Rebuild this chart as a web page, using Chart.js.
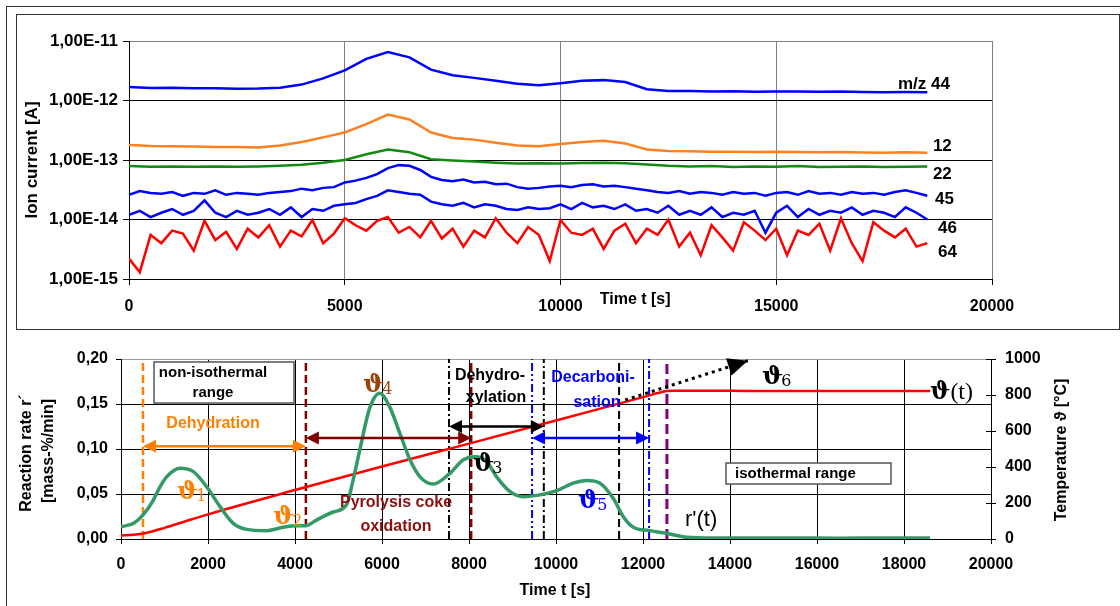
<!DOCTYPE html>
<html>
<head>
<meta charset="utf-8">
<script src="https://cdn.jsdelivr.net/npm/chart.js@4.4.0/dist/chart.umd.min.js"></script>
<style>
  body { margin: 0; width: 1120px; height: 606px; position: relative; background: #fff; overflow: hidden; }
  .frame { position: absolute; border: 1.5px solid #333; box-sizing: border-box; }
  #outer { left: 6px; top: 6px; width: 1130px; height: 620px; }
  #inner { left: 16px; top: 14px; width: 1104px; height: 316px; }
  canvas { position: absolute; left: 0; }
  #top { top: 0; }
  #bottom { top: 330px; }
</style>
</head>
<body>
<div class="frame" id="outer"></div>
<div class="frame" id="inner"></div>
<canvas id="top" width="1120" height="330"></canvas>
<canvas id="bottom" width="1120" height="276"></canvas>
<script>
// ---------- top panel: ion currents ----------
const timeCoarse = [0,500,1000,1500,2000,2500,3000,3500,4000,4500,5000,5500,6000,6500,7000,7500,8000,8500,9000,9500,
  10000,10500,11000,11500,12000,12500,13000,13500,14000,14500,15000,15500,16000,16500,17000,17500,18000,18500];
const timeFine = [0,250,500,750,1000,1250,1500,1750,2000,2250,2500,2750,
  3000,3250,3500,3750,4000,4250,4500,4750,
  5000,5250,5500,5750,6000,6250,6500,6750,
  7000,7250,7500,7750,8000,8250,8500,8750,
  9000,9250,9500,9750,10000,10250,10500,10750,
  11000,11250,11500,11750,12000,12250,12500,12750,
  13000,13250,13500,13750,14000,14250,14500,14750,
  15000,15250,15500,15750,16000,16250,16500,16750,
  17000,17250,17500,17750,18000,18250,18500];

// m/z 44 in 1e-12 A
const mz44 = [1.68,1.62,1.63,1.60,1.61,1.58,1.59,1.64,1.85,2.35,3.2,5.0,6.5,5.3,3.3,2.65,2.4,2.15,1.92,1.8,
  1.95,2.15,2.2,2.05,1.55,1.45,1.44,1.42,1.43,1.40,1.42,1.41,1.40,1.42,1.39,1.38,1.39,1.38];
// m/z 12 in 1e-13 A
const mz12 = [1.78,1.72,1.70,1.68,1.66,1.65,1.62,1.75,2.0,2.4,2.9,4.0,5.8,4.8,2.9,2.35,2.2,1.95,1.75,1.7,
  1.85,2.0,2.1,1.9,1.5,1.42,1.40,1.38,1.37,1.36,1.38,1.36,1.35,1.36,1.34,1.33,1.35,1.32];
// m/z 22 in 1e-14 A
const mz22 = [7.9,7.7,7.8,7.7,7.8,7.7,7.8,8.0,8.3,9.0,10.0,12.5,15.0,13.5,10.3,9.8,9.4,9.0,8.7,8.8,
  8.7,8.9,9.0,8.8,8.4,8.0,7.8,7.9,7.6,7.8,7.7,7.9,7.6,7.7,7.8,7.6,7.7,7.8];
// m/z 45 in 1e-14 A
const mz45 = [2.6,3.0,2.8,2.7,2.9,2.5,2.8,2.7,3.1,2.6,2.8,2.7,
  2.6,2.8,2.9,3.0,3.3,3.1,3.4,3.5,
  4.2,4.5,5.0,5.8,7.3,8.2,8.0,6.8,
  5.2,4.6,4.4,4.7,4.2,4.3,3.9,4.0,
  3.5,3.3,3.4,3.6,3.7,3.5,3.8,3.9,
  3.6,3.7,3.5,3.3,3.1,2.9,2.8,3.0,
  2.7,2.9,2.8,2.6,2.9,2.7,2.8,2.5,
  2.8,2.9,2.6,3.0,2.7,2.8,2.6,2.9,
  2.7,2.8,2.6,2.9,3.1,2.8,2.5];
// m/z 46 in 1e-14 A
const mz46 = [1.2,1.4,1.1,1.3,1.5,1.2,1.4,2.1,1.3,1.1,1.4,1.2,
  1.3,1.5,1.2,1.6,1.1,1.5,1.4,1.7,
  1.8,1.9,2.2,2.5,3.1,2.9,2.7,2.6,
  2.0,1.8,1.7,1.9,1.6,1.8,1.7,1.5,
  1.45,1.6,1.5,1.55,1.8,1.5,1.9,1.6,
  1.7,1.5,1.8,1.4,1.5,1.3,1.7,1.2,
  1.4,1.2,1.6,1.1,1.3,1.2,1.4,0.6,
  1.3,1.7,1.1,1.5,1.2,1.4,1.3,1.6,
  1.2,1.4,1.3,1.1,1.6,1.3,1.0];
// m/z 64 in 1e-15 A
const mz64 = [2.2,1.3,5.5,4.0,6.5,5.8,3.0,9.5,4.5,6.2,3.2,7.0,
  5.0,8.0,3.5,6.5,5.2,9.8,4.0,5.8,
  10.5,8.0,6.5,9.5,11.0,6.0,7.5,5.0,
  9.5,4.8,7.0,3.5,6.5,5.0,10.5,6.0,
  4.0,7.5,5.5,2.0,9.8,6.0,5.5,7.0,
  3.2,6.5,8.5,4.0,7.0,5.5,10.0,3.5,
  6.0,2.5,8.0,5.0,3.0,9.0,6.5,4.5,
  7.0,2.5,6.5,5.5,8.5,3.0,10.5,4.0,
  2.0,9.0,6.5,5.0,7.0,3.5,4.0];
const seriesNames = ['m/z 44','12','22','45','46','64'];
const decades = [1e-15,1e-14,1e-13,1e-12,1e-11];

// ---------- bottom panel: reaction rate and temperature ----------
const rateTime = [0,292,507,744,897,1050,1356,1663,1969,2276,2582,2889,3349,3732,4000,4250,4494,4877,5183,5336,5490,5720,5950,
  6184,6414,6644,6874,7180,7540,7870,8138,8406,8636,8943,9249,9632,10015,10398,10705,11011,11318,11548,11778,12146,12544,
  13004,13617,14500,15500,16500,17500,18600];
const rateValue = [0.0137,0.0174,0.0267,0.0433,0.058,0.069,0.0785,0.0748,0.058,0.036,0.0174,0.0107,0.0093,0.013,0.0148,0.0148,
  0.021,0.030,0.038,0.0656,0.099,0.146,0.162,
  0.146,0.117,0.088,0.069,0.061,0.072,0.088,0.0915,0.086,0.069,0.0526,0.047,0.049,0.0537,0.062,0.065,0.062,0.045,0.0248,
  0.013,0.0093,0.0063,0.0019,0.001,0.001,0.0012,0.0009,0.0011,0.001];
const tempTime = [0,300,600,1000,1500,2000,4000,6000,8000,10000,12000,12550,12700,14000,16000,18600];
const tempValue = [20,23,35,62,100,137,272,403,530,658,788,822,824,823,822,822];
const extrapTime = [11590,14410];
const extrapTemp = [772,990];
const markerTimes = [506,4250,7540,8050,9450,9720,11450,12140,12550];

// styles for the vertical phase markers
const markerStyles = [
  {color:'#ff8000', dash:[8,4], width:2.5},
  {color:'#800000', dash:[8,4], width:2.5},
  {color:'#000000', dash:[8,3,2,3], width:2},
  {color:'#800000', dash:[8,4], width:2.5},
  {color:'#0000ff', dash:[8,3,2,3,2,3], width:2},
  {color:'#000000', dash:[8,3,2,3], width:2},
  {color:'#000000', dash:[8,4], width:2},
  {color:'#0000ff', dash:[8,3,2,3], width:2},
  {color:'#800080', dash:[10,5], width:3}
];

const sans = '"Liberation Sans", Arial, sans-serif';
const tickFont = {family: sans, size: 16, weight: 'bold'};

function pts(xs, ys, unit) {
  return xs.map((t, i) => ({x: t, y: ys[i] * (unit || 1)}));
}
function txt(ctx, s, x, y, font, color, align) {
  ctx.font = font;
  ctx.fillStyle = color;
  ctx.textAlign = align || 'center';
  ctx.textBaseline = 'middle';
  ctx.fillText(s, x, y);
}
function vtxt(ctx, s, x, y, font, color) {
  ctx.save();
  ctx.translate(x, y);
  ctx.rotate(-Math.PI / 2);
  txt(ctx, s, 0, 0, font, color);
  ctx.restore();
}
function arrowHead(ctx, x, y, dx, dy, len, half, color) {
  const n = Math.hypot(dx, dy), ux = dx / n, uy = dy / n;
  ctx.beginPath();
  ctx.moveTo(x, y);
  ctx.lineTo(x - ux * len - uy * half, y - uy * len + ux * half);
  ctx.lineTo(x - ux * len + uy * half, y - uy * len - ux * half);
  ctx.closePath();
  ctx.fillStyle = color;
  ctx.fill();
}
function spanArrow(ctx, x1, x2, y, color) {
  ctx.strokeStyle = color;
  ctx.lineWidth = 2.5;
  ctx.setLineDash([]);
  ctx.beginPath();
  ctx.moveTo(x1 + 8, y);
  ctx.lineTo(x2 - 8, y);
  ctx.stroke();
  arrowHead(ctx, x1, y, -1, 0, 13, 6.5, color);
  arrowHead(ctx, x2, y, 1, 0, 13, 6.5, color);
}
function theta(ctx, x, y, sub, color, size) {
  ctx.font = 'bold ' + size + 'px "DejaVu Serif", serif';
  ctx.fillStyle = color;
  ctx.textAlign = 'left';
  ctx.textBaseline = 'middle';
  ctx.fillText('\u03D1', x, y);
  const w = ctx.measureText('\u03D1').width;
  ctx.font = Math.round(size * 0.65) + 'px "DejaVu Serif", serif';
  ctx.fillText(sub, x + w - 2, y + size * 0.2);
}

// ---------- top chart ----------
const seriesTags = [
  {t:17820, v:1.89e-12}, {t:18630, v:1.72e-13}, {t:18630, v:5.8e-14},
  {t:18680, v:2.2e-14}, {t:18750, v:7.2e-15}, {t:18750, v:2.85e-15}
];
const topNotes = {
  id: 'topNotes',
  afterDraw(chart) {
    const {ctx, scales: {x, y}} = chart;
    ctx.save();
    seriesNames.forEach((name, i) => {
      txt(ctx, name, x.getPixelForValue(seriesTags[i].t), y.getPixelForValue(seriesTags[i].v),
        'bold 17px ' + sans, '#000', 'left');
    });
    txt(ctx, 'Time t [s]', x.getPixelForValue(11730), 300, 'bold 16px ' + sans, '#000');
    vtxt(ctx, 'Ion current [A]', 32, 160, 'bold 17px ' + sans, '#000');
    ctx.restore();
  }
};

function msLine(xs, ys, unit, color) {
  return {data: pts(xs, ys, unit), borderColor: color, borderWidth: 2.5, pointRadius: 0, tension: 0};
}

new Chart(document.getElementById('top'), {
  type: 'line',
  data: {
    datasets: [
      msLine(timeCoarse, mz44, 1e-12, '#0000ff'),
      msLine(timeCoarse, mz12, 1e-13, '#ff8020'),
      msLine(timeCoarse, mz22, 1e-14, '#138a13'),
      msLine(timeFine, mz46, 1e-14, '#0000ff'),
      msLine(timeFine, mz45, 1e-14, '#0000ff'),
      msLine(timeFine, mz64, 1e-15, '#ff0000')
    ]
  },
  options: {
    responsive: false,
    animation: false,
    devicePixelRatio: 1,
    layout: {padding: {top: 41, right: 128, left: 0, bottom: 0}},
    plugins: {legend: {display: false}, tooltip: {enabled: false}},
    scales: {
      x: {
        type: 'linear', min: 0, max: 20000,
        ticks: {stepSize: 5000, font: tickFont, color: '#000', padding: 12, maxRotation: 0, callback: v => String(v)},
        grid: {color: '#808080', tickColor: '#000', tickLength: 6},
        border: {color: '#000'},
        afterFit(s) { s.height = 51; }
      },
      y: {
        type: 'logarithmic', min: 1e-15, max: 1e-11,
        afterBuildTicks(s) { s.ticks = decades.map(v => ({value: v})); },
        ticks: {
          font: {family: sans, size: 17, weight: 'bold'}, color: '#000', padding: 5,
          callback: v => '1,00E' + Math.round(Math.log10(v))
        },
        grid: {color: c => (c.tick && c.tick.value >= 1e-11 ? '#808080' : '#000'), tickColor: '#000', tickLength: 6},
        border: {color: '#000'},
        afterFit(s) { s.width = 129; }
      }
    }
  },
  plugins: [topNotes]
});

// ---------- bottom chart ----------
const spans = [
  {from:506, to:4250, at:0.103, color:'#ff8000'},
  {from:4250, to:8050, at:0.1122, color:'#800000'},
  {from:7540, to:9720, at:0.125, color:'#000000'},
  {from:9450, to:12140, at:0.1122, color:'#0000ff'}
];
const phaseText = [
  {text:'Dehydration', t:2115, r:0.128, color:'#ff8000'},
  {text:'Pyrolysis coke', t:6322, r:0.040, color:'#8b1010'},
  {text:'oxidation', t:6322, r:0.0133, color:'#8b1010'},
  {text:'Dehydro-', t:8483, r:0.182, color:'#000'},
  {text:'xylation', t:8621, r:0.157, color:'#000'},
  {text:'Decarboni-', t:10851, r:0.179, color:'#0000ff'},
  {text:'sation', t:10943, r:0.152, color:'#0000ff'}
];
const thetaTags = [
  {sub:'1', t:1287, r:0.052, color:'#ff8000'},
  {sub:'2', t:3494, r:0.0244, color:'#ff8000'},
  {sub:'3', t:8092, r:0.0833, color:'#000'},
  {sub:'4', t:5563, r:0.171, color:'#a0400a'},
  {sub:'5', t:10506, r:0.042, color:'#0000ff'},
  {sub:'6', t:14736, r:0.180, color:'#000'}
];

const bottomNotes = {
  id: 'bottomNotes',
  afterDatasetsDraw(chart) {
    const {ctx, scales: {x, y, y2}} = chart;
    const px = t => x.getPixelForValue(t), py = r => y.getPixelForValue(r);
    ctx.save();
    spans.forEach(a => spanArrow(ctx, px(a.from), px(a.to), py(a.at), a.color));

    // head of the dotted extrapolation
    const x1 = px(extrapTime[0]), y1 = y2.getPixelForValue(extrapTemp[0]);
    const x2 = px(extrapTime[1]), y2p = y2.getPixelForValue(extrapTemp[1]);
    arrowHead(ctx, x2, y2p, x2 - x1, y2p - y1, 20, 9, '#000');

    // text boxes
    ctx.setLineDash([]);
    ctx.lineWidth = 1.5;
    ctx.strokeStyle = '#555';
    [[759, 3977, 0.1967, 0.1511], [13908, 17701, 0.0844, 0.0611]].forEach(b => {
      const l = px(b[0]), r = px(b[1]), t = py(b[2]), bt = py(b[3]);
      ctx.fillStyle = '#fff';
      ctx.fillRect(l, t, r - l, bt - t);
      ctx.strokeRect(l, t, r - l, bt - t);
    });
    const f15 = 'bold 15px ' + sans;
    txt(ctx, 'non-isothermal', px(2115), py(0.1844), f15, '#000');
    txt(ctx, 'range', px(2115), py(0.1622), f15, '#000');
    txt(ctx, 'isothermal range', px(14115), py(0.0728), f15, '#000', 'left');

    phaseText.forEach(p => txt(ctx, p.text, px(p.t), py(p.r), 'bold 16px ' + sans, p.color));
    thetaTags.forEach(p => theta(ctx, px(p.t), py(p.r), p.sub, p.color, 25));

    // curve names
    ctx.font = 'bold 24px "DejaVu Serif", serif';
    ctx.fillStyle = '#000';
    ctx.textAlign = 'left';
    ctx.textBaseline = 'middle';
    const tx = px(18598), ty = py(0.162);
    ctx.fillText('\u03D1', tx, ty);
    const w = ctx.measureText('\u03D1').width;
    ctx.font = '24px "Liberation Serif", serif';
    ctx.fillText('(t)', tx + w, ty);
    txt(ctx, "r'(t)", px(12966), py(0.021), '22px ' + sans, '#000', 'left');
    ctx.restore();
  },
  afterDraw(chart) {
    const {ctx, chartArea: a, scales: {y2}} = chart;
    ctx.save();
    ctx.strokeStyle = '#000';
    ctx.lineWidth = 1;
    y2.ticks.forEach(tk => {
      const yy = Math.round(y2.getPixelForValue(tk.value)) + 0.5;
      ctx.beginPath();
      ctx.moveTo(a.right - 5, yy);
      ctx.lineTo(a.right, yy);
      ctx.stroke();
    });
    const f16 = 'bold 16px ' + sans;
    txt(ctx, 'Time t [s]', 555, 261, f16, '#000');
    vtxt(ctx, 'Reaction rate r\u00B4', 27, 123, f16, '#000');
    vtxt(ctx, '[mass-%/min]', 49, 121, f16, '#000');
    vtxt(ctx, 'Temperature \u03D1 [\u00B0C]', 1062, 120, f16, '#000');
    ctx.restore();
  }
};

const markerSets = markerTimes.map((t, i) => ({
  data: [{x: t, y: 0}, {x: t, y: 0.2}],
  yAxisID: 'y',
  borderColor: markerStyles[i].color,
  borderDash: markerStyles[i].dash,
  borderWidth: markerStyles[i].width,
  pointRadius: 0
}));

new Chart(document.getElementById('bottom'), {
  type: 'line',
  data: {
    datasets: [
      {data: pts(rateTime, rateValue), yAxisID: 'y', borderColor: '#339966', borderWidth: 3.5,
        pointRadius: 0, tension: 0.4, cubicInterpolationMode: 'monotone'},
      {data: pts(extrapTime, extrapTemp), yAxisID: 'y2', borderColor: '#000', borderWidth: 3,
        borderDash: [3, 4], pointRadius: 0},
      {data: pts(tempTime, tempValue), yAxisID: 'y2', borderColor: '#ff0000', borderWidth: 2.5,
        pointRadius: 0, tension: 0.3, cubicInterpolationMode: 'monotone'},
      ...markerSets
    ]
  },
  options: {
    responsive: false,
    animation: false,
    devicePixelRatio: 1,
    layout: {padding: {top: 29, right: 0, left: 0, bottom: 0}},
    plugins: {legend: {display: false}, tooltip: {enabled: false}},
    scales: {
      x: {
        type: 'linear', min: 0, max: 20000,
        ticks: {stepSize: 2000, font: tickFont, color: '#000', padding: 11, maxRotation: 0, callback: v => String(v)},
        grid: {color: '#000', tickColor: '#000', tickLength: 5},
        border: {color: '#000'},
        afterFit(s) { s.height = 67; }
      },
      y: {
        min: 0, max: 0.2,
        ticks: {stepSize: 0.05, font: tickFont, color: '#000', padding: 8,
          callback: v => v.toFixed(2).replace('.', ',')},
        grid: {color: c => (c.tick && c.tick.value >= 0.199 ? '#999' : '#000'), tickColor: '#000', tickLength: 5},
        border: {color: '#000'},
        afterFit(s) { s.width = 121; }
      },
      y2: {
        position: 'right', min: 0, max: 1000,
        ticks: {stepSize: 200, font: tickFont, color: '#000', padding: 9, callback: v => String(v)},
        grid: {drawOnChartArea: false, tickColor: '#000', tickLength: 5},
        border: {color: '#000'},
        afterFit(s) { s.width = 129; }
      }
    }
  },
  plugins: [bottomNotes]
});
</script>
</body>
</html>
